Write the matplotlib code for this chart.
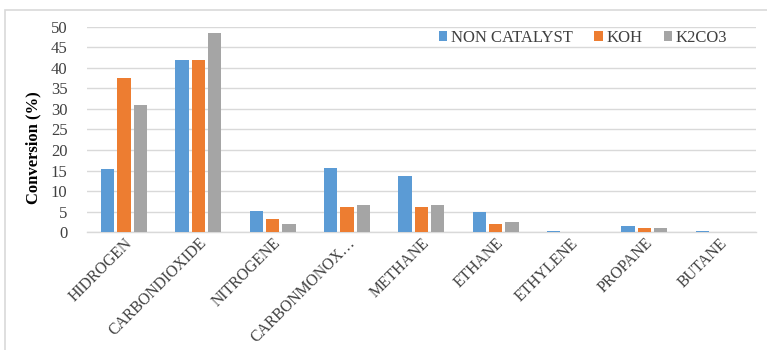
import matplotlib
matplotlib.use("Agg")
import matplotlib.pyplot as plt
import matplotlib.transforms as mtransforms
from matplotlib.patches import Rectangle, Patch
import numpy as np

categories = ["HIDROGEN", "CARBONDIOXIDE", "NITROGENE", "CARBONMONOX…",
              "METHANE", "ETHANE", "ETHYLENE", "PROPANE", "BUTANE"]
series_names = ["NON CATALYST", "KOH", "K2CO3"]
non_catalyst = [15.4, 41.8, 5.1, 15.6, 13.6, 5.0, 0.3, 1.6, 0.3]
koh = [37.6, 42.0, 3.3, 6.2, 6.2, 2.1, 0.0, 1.0, 0.0]
k2co3 = [31.0, 48.5, 2.0, 6.6, 6.6, 2.5, 0.0, 1.0, 0.0]
y_ticks = [0, 5, 10, 15, 20, 25, 30, 35, 40, 45, 50]
colors = ["#5B9BD5", "#ED7D31", "#A5A5A5"]

plt.rcParams["font.family"] = ["Liberation Serif", "DejaVu Serif"]
FS = 12

W, H = 767, 350
fig = plt.figure(figsize=(W / 100, H / 100), dpi=100)

# outer chart frame
fig.patches.append(Rectangle((5 / W, -0.05), 1.2, 1 - 10 / H + 0.05,
                             transform=fig.transFigure, fill=False,
                             edgecolor="#D9D9D9", linewidth=1.2))

ax = fig.add_axes([87 / W, 1 - 232.3 / H, (755.7 - 87) / W, (232.3 - 26.6) / H])

x = np.arange(len(categories))
offsets = [-0.22, 0.0, 0.22]
for vals, off, col, name in zip([non_catalyst, koh, k2co3], offsets, colors, series_names):
    ax.bar(x + off, vals, width=0.18, color=col, edgecolor="none",
           label=name, zorder=3)

ax.set_xlim(-0.5, len(categories) - 0.5)
ax.set_ylim(0, 50)
ax.set_yticks(y_ticks)
ax.set_yticklabels([str(v) for v in y_ticks], fontsize=FS, color="#404040")
ax.yaxis.grid(True, color="#D9D9D9", linewidth=1.0, zorder=0)
ax.set_axisbelow(True)
for s in ["top", "right", "left"]:
    ax.spines[s].set_visible(False)
ax.spines["bottom"].set_color("#D9D9D9")
ax.spines["bottom"].set_linewidth(1.0)
ax.tick_params(axis="y", length=0, pad=14)
ax.tick_params(axis="x", length=0, pad=6)

ax.set_xticks(x)
ax.set_xticklabels(categories, rotation=45, ha="right", va="center",
                   rotation_mode="anchor", fontsize=11.3, color="#404040")
shift = mtransforms.ScaledTranslation(6 / 100, 0, fig.dpi_scale_trans)
for lbl in ax.get_xticklabels():
    lbl.set_transform(lbl.get_transform() + shift)

fig.text(33 / W, 1 - 148 / H, "Conversion (%)", rotation=90, ha="center",
         va="center", fontsize=FS, fontweight="bold", color="#000000")

handles = [Patch(facecolor=c, edgecolor="none") for c in colors]
fig.legend(handles, series_names, loc="center", bbox_to_anchor=(583 / W, 1 - 38 / H),
           ncol=3, frameon=False, fontsize=FS, handlelength=0.5,
           handleheight=0.5, handletextpad=0.2, columnspacing=1.3,
           labelcolor="#404040")

fig.savefig("out.png", dpi=100)
